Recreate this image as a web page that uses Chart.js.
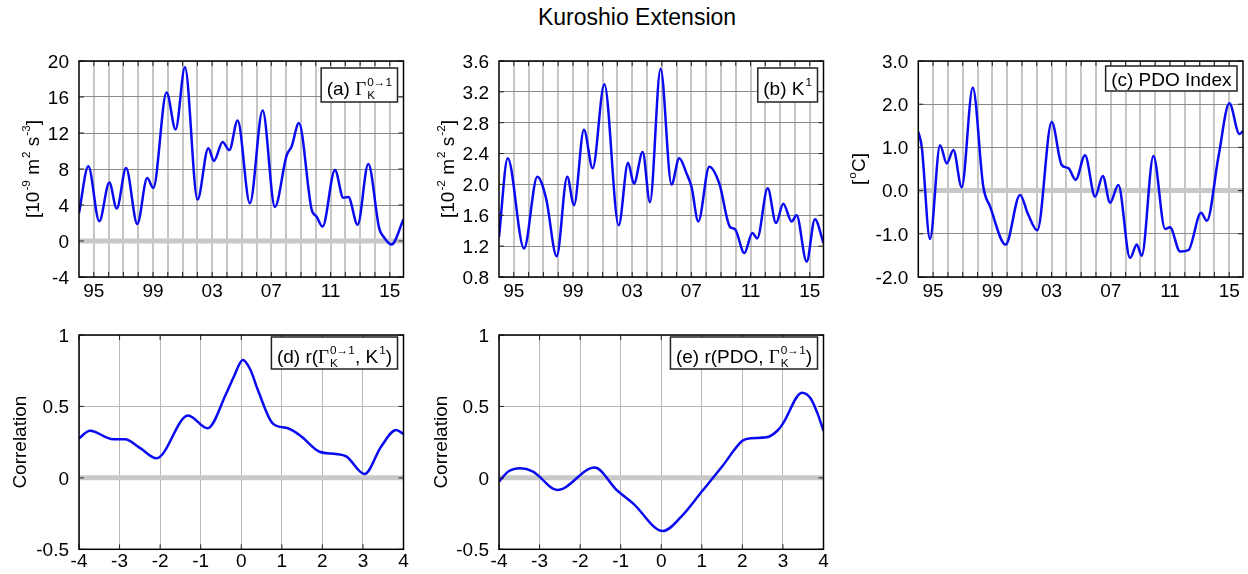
<!DOCTYPE html>
<html>
<head>
<meta charset="utf-8">
<script src="https://cdn.jsdelivr.net/npm/chart.js@4.4.0/dist/chart.umd.min.js"></script>
<style>
  body { margin: 0; background: #fff; width: 1248px; height: 574px; position: relative; overflow: hidden; }
  canvas { position: absolute; }
  #titulo { position: absolute; left: 13px; top: 6px; width: 1248px; text-align: center;
            font: 23px 'Liberation Sans', Arial, sans-serif; line-height: 23px; color: #000; }
</style>
</head>
<body>
<div id="titulo">Kuroshio Extension</div>
<canvas id="ga" width="420" height="270" style="left:0px;top:40px"></canvas>
<canvas id="gb" width="420" height="270" style="left:420px;top:40px"></canvas>
<canvas id="gc" width="408" height="270" style="left:840px;top:40px"></canvas>
<canvas id="gd" width="420" height="254" style="left:0px;top:320px"></canvas>
<canvas id="ge" width="420" height="254" style="left:420px;top:320px"></canvas>
<script>
// (a) transferencia de energía
const aYear = [1994.0, 1994.63, 1995.37, 1996.05, 1996.55, 1997.18, 1997.94, 1998.61, 1999.02, 1999.92, 2000.53, 2001.16, 2002.01, 2002.74, 2003.12, 2003.71, 2004.16, 2004.72, 2005.55, 2006.41, 2007.24, 2008.03, 2008.37, 2008.86, 2009.72, 2010.06, 2010.46, 2011.3, 2011.86, 2012.2, 2012.83, 2013.55, 2014.29, 2014.57, 2015.12, 2015.93];
const aVal = [3.1, 8.3, 2.2, 6.5, 3.6, 8.1, 1.9, 7.0, 5.9, 16.5, 12.4, 19.3, 4.6, 10.3, 8.9, 11.0, 10.1, 13.4, 4.2, 14.5, 3.8, 9.5, 10.5, 13.1, 3.5, 2.7, 1.6, 7.9, 4.8, 4.9, 1.8, 8.55, 1.4, 0.5, -0.4, 2.4];

// (b) energía cinética
const bYear = [1994.0, 1994.59, 1995.69, 1996.59, 1997.18, 1997.9, 1998.61, 1999.07, 1999.74, 2000.33, 2001.12, 2002.09, 2002.72, 2003.12, 2003.71, 2004.2, 2004.92, 2005.66, 2006.18, 2006.68, 2007.01, 2007.47, 2008.21, 2008.89, 2009.61, 2009.95, 2010.58, 2011.12, 2011.45, 2012.16, 2012.72, 2013.21, 2013.78, 2014.11, 2014.79, 2015.35, 2015.93];
const bVal = [1.32, 2.34, 1.17, 2.10, 1.82, 1.07, 2.10, 1.73, 2.71, 2.21, 3.30, 1.47, 2.28, 2.01, 2.42, 1.77, 3.50, 2.00, 2.34, 2.14, 1.97, 1.52, 2.23, 2.01, 1.45, 1.42, 1.11, 1.37, 1.30, 1.95, 1.50, 1.75, 1.52, 1.60, 1.00, 1.55, 1.24];

// (c) índice PDO
const cYear = [1994.0, 1994.23, 1994.79, 1995.47, 1995.92, 1996.37, 1996.93, 1997.68, 1998.39, 1998.85, 1999.9, 2000.87, 2001.43, 2002.04, 2003.01, 2003.69, 2004.14, 2004.63, 2005.26, 2005.94, 2006.46, 2006.95, 2007.51, 2008.3, 2008.76, 2009.09, 2009.88, 2010.67, 2011.0, 2011.68, 2012.24, 2013.1, 2013.49, 2014.27, 2015.01, 2015.69, 2015.93];
const cVal = [1.36, 1.02, -1.12, 1.05, 0.63, 0.94, 0.08, 2.38, 0.09, -0.37, -1.25, -0.10, -0.56, -0.92, 1.59, 0.59, 0.52, 0.25, 0.82, -0.14, 0.34, -0.28, 0.13, -1.56, -1.25, -1.51, 0.80, -0.89, -0.85, -1.41, -1.38, -0.51, -0.70, 0.78, 2.02, 1.31, 1.38];

// (d) correlación con desfase
const dLag = [-4, -3.73, -3.16, -2.87, -2.5, -2.09, -1.31, -0.83, -0.37, -0.18, 0.04, 0.22, 0.41, 0.78, 1.15, 1.48, 1.93, 2.34, 2.59, 3.04, 3.45, 3.82, 4];
const dCorr = [0.277, 0.33, 0.27, 0.27, 0.21, 0.137, 0.436, 0.347, 0.59, 0.71, 0.825, 0.76, 0.615, 0.38, 0.347, 0.29, 0.183, 0.167, 0.15, 0.027, 0.22, 0.335, 0.307];

// (e) correlación PDO
const eLag = [-4, -3.77, -3.48, -3.16, -2.56, -1.64, -1.1, -0.69, 0.04, 0.5, 1.0, 1.5, 2.0, 2.2, 2.6, 2.88, 3.0, 3.47, 3.68, 3.84, 4];
const eCorr = [-0.026, 0.044, 0.067, 0.044, -0.085, 0.072, -0.085, -0.18, -0.372, -0.27, -0.096, 0.079, 0.26, 0.278, 0.284, 0.335, 0.38, 0.596, 0.557, 0.46, 0.33];

// marcas de los ejes
const yearTicks = [1995, 1999, 2003, 2007, 2011, 2015];
const yearLabels = ['95', '99', '03', '07', '11', '15'];
const lagTicks = [-4, -3, -2, -1, 0, 1, 2, 3, 4];
const lagLabels = ['-4', '-3', '-2', '-1', '0', '1', '2', '3', '4'];
const aTicks = [-4, 0, 4, 8, 12, 16, 20];
const aTickLabels = ['-4', '0', '4', '8', '12', '16', '20'];
const bTicks = [0.8, 1.2, 1.6, 2.0, 2.4, 2.8, 3.2, 3.6];
const bTickLabels = ['0.8', '1.2', '1.6', '2.0', '2.4', '2.8', '3.2', '3.6'];
const cTicks = [-2, -1, 0, 1, 2, 3];
const cTickLabels = ['-2.0', '-1.0', '0.0', '1.0', '2.0', '3.0'];
const rTicks = [-0.5, 0, 0.5, 1];
const rTickLabels = ['-0.5', '0', '0.5', '1'];

const FUENTE = "'Liberation Sans', Arial, sans-serif";
const SERIF = "'Liberation Serif', 'Times New Roman', serif";
const TAM = 19;
const CHICA = 0.62;   // tamaño relativo de super/subíndices

const yearGrid = [];
for (let y = 1995; y <= 2015; y++) yearGrid.push(y);

function medir(ctx, partes, size) {
  let w = 0;
  for (const p of partes) {
    if (typeof p === 'string' || p.t) {
      const t = typeof p === 'string' ? p : p.t;
      ctx.font = size + 'px ' + (p.serif ? SERIF : FUENTE);
      w += ctx.measureText(t).width;
    } else {
      ctx.font = (size * CHICA) + 'px ' + FUENTE;
      let m = 0;
      if (p.sup) m = Math.max(m, ctx.measureText(p.sup).width);
      if (p.sub) m = Math.max(m, ctx.measureText(p.sub).width);
      w += m + 1;
    }
  }
  return w;
}

function dibujar(ctx, partes, size) {
  ctx.textAlign = 'left';
  ctx.textBaseline = 'alphabetic';
  let cx = 0;
  for (const p of partes) {
    if (typeof p === 'string' || p.t) {
      const t = typeof p === 'string' ? p : p.t;
      ctx.font = size + 'px ' + (p.serif ? SERIF : FUENTE);
      ctx.fillText(t, cx, 0);
      cx += ctx.measureText(t).width;
    } else {
      ctx.font = (size * CHICA) + 'px ' + FUENTE;
      let m = 0;
      if (p.sup) { ctx.fillText(p.sup, cx + 1, -size * 0.45); m = Math.max(m, ctx.measureText(p.sup).width); }
      if (p.sub) { ctx.fillText(p.sub, cx + 1, size * 0.22); m = Math.max(m, ctx.measureText(p.sub).width); }
      cx += m + 1;
    }
  }
}

const marco = {
  id: 'marco',
  beforeDatasetsDraw(chart, args, o) {
    const { ctx, chartArea: a } = chart;
    const y0 = chart.scales.y.getPixelForValue(0);
    ctx.save();
    ctx.strokeStyle = '#c8c8c8';
    ctx.lineWidth = 5;
    ctx.beginPath();
    ctx.moveTo(a.left, y0);
    ctx.lineTo(a.right, y0);
    ctx.stroke();
    ctx.restore();
  },
  afterDraw(chart, args, o) {
    const { ctx, chartArea: a } = chart;
    const sx = chart.scales.x, sy = chart.scales.y;
    ctx.save();
    // marcas hacia dentro
    ctx.strokeStyle = '#222';
    ctx.lineWidth = 1;
    ctx.beginPath();
    for (const v of o.xGrid) {
      const px = sx.getPixelForValue(v);
      ctx.moveTo(px, a.bottom); ctx.lineTo(px, a.bottom - 5);
      ctx.moveTo(px, a.top); ctx.lineTo(px, a.top + 5);
    }
    for (const v of o.yTicks) {
      const py = sy.getPixelForValue(v);
      ctx.moveTo(a.left, py); ctx.lineTo(a.left + 5, py);
      ctx.moveTo(a.right, py); ctx.lineTo(a.right - 5, py);
    }
    ctx.stroke();
    // caja
    ctx.strokeStyle = '#000';
    ctx.lineWidth = 1.5;
    ctx.strokeRect(a.left, a.top, a.right - a.left, a.bottom - a.top);

    // etiquetas de las marcas
    ctx.fillStyle = '#000';
    ctx.font = TAM + 'px ' + FUENTE;
    ctx.textBaseline = 'alphabetic';
    ctx.textAlign = 'right';
    o.yTicks.forEach((v, i) => {
      ctx.fillText(o.yLabels[i], a.left - 10, sy.getPixelForValue(v) + 6.8);
    });
    ctx.textAlign = 'center';
    o.xTicks.forEach((v, i) => {
      ctx.fillText(o.xLabels[i], sx.getPixelForValue(v), a.bottom + o.xLabelDrop);
    });

    // título del eje y, girado
    const wt = medir(ctx, o.yTitle, TAM);
    ctx.save();
    ctx.translate(o.yTitleX + 7, (a.top + a.bottom) / 2);
    ctx.rotate(-Math.PI / 2);
    ctx.translate(-wt / 2, 0);
    dibujar(ctx, o.yTitle, TAM);
    ctx.restore();

    // recuadro con la etiqueta del panel
    const wl = medir(ctx, o.caja, TAM);
    const right = a.right - 6;
    const left = right - wl - 11;
    const top = a.top + o.cajaTop;
    ctx.fillStyle = '#fff';
    ctx.fillRect(left, top, right - left, o.cajaH);
    ctx.strokeStyle = '#222';
    ctx.lineWidth = 1.5;
    ctx.strokeRect(left, top, right - left, o.cajaH);
    ctx.fillStyle = '#000';
    ctx.save();
    ctx.translate(left + 5.5, top + o.cajaBase);
    dibujar(ctx, o.caja, TAM);
    ctx.restore();
    ctx.restore();
  }
};

const gammaK = [{ t: 'Γ', serif: true }, { sup: '0→1', sub: 'K' }];

const paneles = [
  { id: 'ga', xs: aYear, ys: aVal, xmin: 1994, xmax: 2015.93, ymin: -4, ymax: 20,
    xGrid: yearGrid, xTicks: yearTicks, xLabels: yearLabels, yTicks: aTicks, yLabels: aTickLabels,
    yTitle: ['[10', { sup: '-9' }, ' m', { sup: '2' }, ' s', { sup: '-3' }, ']'], yTitleX: 32,
    caja: ['(a) ', ...gammaK], cajaTop: 7, cajaH: 34, cajaBase: 27,
    yW: 79, padTop: 21, padRight: 16.5, xH: 33, xLabelDrop: 20, top: true },
  { id: 'gb', xs: bYear, ys: bVal, xmin: 1994, xmax: 2015.93, ymin: 0.8, ymax: 3.6,
    xGrid: yearGrid, xTicks: yearTicks, xLabels: yearLabels, yTicks: bTicks, yLabels: bTickLabels,
    yTitle: ['[10', { sup: '-2' }, ' m', { sup: '2' }, ' s', { sup: '-2' }, ']'], yTitleX: 27,
    caja: ['(b) K', { sup: '1' }], cajaTop: 7, cajaH: 34, cajaBase: 27,
    yW: 79, padTop: 21, padRight: 16.5, xH: 33, xLabelDrop: 20, top: true },
  { id: 'gc', xs: cYear, ys: cVal, xmin: 1994, xmax: 2015.93, ymin: -2, ymax: 3,
    xGrid: yearGrid, xTicks: yearTicks, xLabels: yearLabels, yTicks: cTicks, yLabels: cTickLabels,
    yTitle: ['[', { sup: 'o' }, 'C]'], yTitleX: 18,
    caja: ['(c) PDO Index'], cajaTop: 5, cajaH: 25, cajaBase: 19.5,
    yW: 78.3, padTop: 21, padRight: 5, xH: 33, xLabelDrop: 20, top: true },
  { id: 'gd', xs: dLag, ys: dCorr, xmin: -4, xmax: 4, ymin: -0.5, ymax: 1,
    xGrid: lagTicks, xTicks: lagTicks, xLabels: lagLabels, yTicks: rTicks, yLabels: rTickLabels,
    yTitle: ['Correlation'], yTitleX: 19,
    caja: ['(d) r(', ...gammaK, ', K', { sup: '1' }, ')'], cajaTop: 2, cajaH: 32, cajaBase: 26,
    yW: 79, padTop: 15, padRight: 16.5, xH: 24.7, xLabelDrop: 18, top: false },
  { id: 'ge', xs: eLag, ys: eCorr, xmin: -4, xmax: 4, ymin: -0.5, ymax: 1,
    xGrid: lagTicks, xTicks: lagTicks, xLabels: lagLabels, yTicks: rTicks, yLabels: rTickLabels,
    yTitle: ['Correlation'], yTitleX: 20,
    caja: ['(e) r(PDO, ', ...gammaK, ')'], cajaTop: 2, cajaH: 32, cajaBase: 26,
    yW: 79, padTop: 15, padRight: 16.5, xH: 24.7, xLabelDrop: 18, top: false }
];

for (const p of paneles) {
  const ctx = document.getElementById(p.id).getContext('2d');
  new Chart(ctx, {
    type: 'line',
    data: {
      datasets: [{
        data: p.xs.map((x, i) => ({ x: x, y: p.ys[i] })),
        borderColor: '#0a0af0',
        borderWidth: 2.5,
        pointRadius: 0,
        fill: false,
        cubicInterpolationMode: 'monotone'
      }]
    },
    options: {
      responsive: false,
      animation: false,
      devicePixelRatio: 1,
      layout: { padding: { top: p.padTop, right: p.padRight, left: 0, bottom: 0 } },
      plugins: { legend: { display: false }, tooltip: { enabled: false }, marco: p },
      scales: {
        x: {
          type: 'linear', min: p.xmin, max: p.xmax,
          afterBuildTicks: s => { s.ticks = p.xGrid.map(v => ({ value: v })); },
          afterFit: s => { s.height = p.xH; },
          ticks: { display: false },
          grid: { color: p.top ? '#c6c6c6' : '#b8b8b8', lineWidth: p.top ? 2 : 1, drawTicks: false },
          border: { display: false }
        },
        y: {
          type: 'linear', min: p.ymin, max: p.ymax,
          afterBuildTicks: s => { s.ticks = p.yTicks.map(v => ({ value: v })); },
          afterFit: s => { s.width = p.yW; },
          ticks: { display: false },
          grid: { color: p.top ? '#8a8a8a' : '#b8b8b8', lineWidth: 1, drawTicks: false },
          border: { display: false }
        }
      }
    },
    plugins: [marco]
  });
}
</script>
</body>
</html>
